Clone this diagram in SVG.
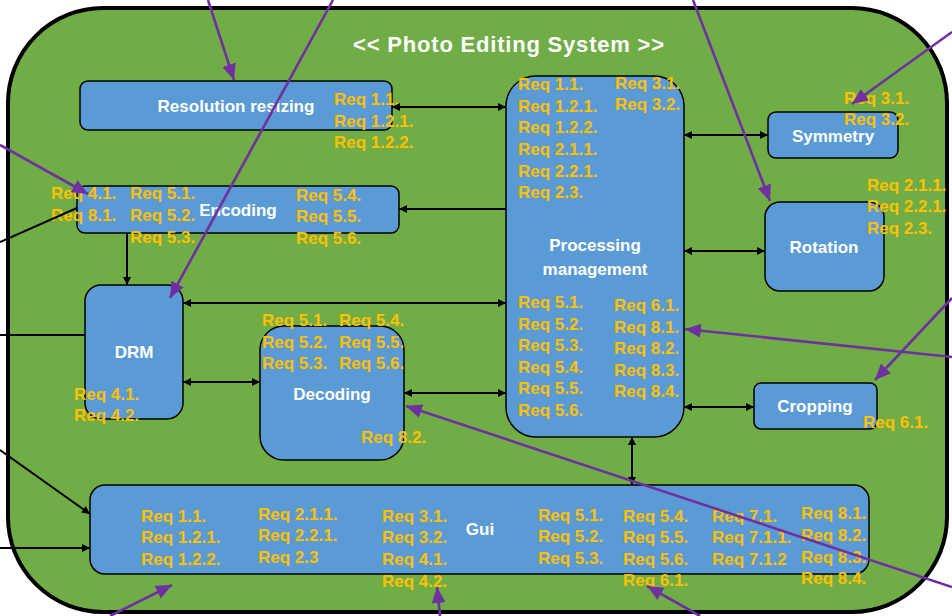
<svg xmlns="http://www.w3.org/2000/svg" width="952" height="616" viewBox="0 0 952 616">
  <style>
    .sys { fill: #70AD47; stroke: #000; stroke-width: 4; }
    .box { fill: #5B9BD5; stroke: #000; stroke-width: 1.5; }
    .lbl { font-family: "Liberation Sans", Arial, sans-serif; font-weight: bold; font-size: 17px; fill: #FFFFFF; text-anchor: middle; }
    .req { font-family: "Liberation Sans", Arial, sans-serif; font-weight: bold; font-size: 17px; fill: #FFC000; }
    .title { font-family: "Liberation Sans", Arial, sans-serif; font-weight: bold; font-size: 22px; fill: #FFFFFF; text-anchor: middle; letter-spacing: 0.8px; }
    .flow { stroke: #000; stroke-width: 2; fill: none; }
    .trace { stroke: #7030A0; stroke-width: 2.6; fill: none; }
  </style>
  <defs>
    <marker id="ah" viewBox="0 0 10 10" refX="10" refY="5" markerWidth="9" markerHeight="8" markerUnits="userSpaceOnUse" orient="auto-start-reverse">
      <path d="M0,0 L10,5 L0,10 z" fill="#000"/>
    </marker>
    <marker id="ahp" viewBox="0 0 16 14" refX="16" refY="7" markerWidth="16" markerHeight="14" markerUnits="userSpaceOnUse" orient="auto">
      <path d="M0,0 L16,7 L0,14 z" fill="#7030A0"/>
    </marker>
  </defs>

  <rect x="0" y="0" width="952" height="616" fill="#FFFFFF"/>

  <!-- system boundary -->
  <g id="system">
    <rect class="sys" x="8" y="8" width="939" height="604" rx="95" ry="95"/>
    <text class="title" x="509" y="52">&lt;&lt; Photo Editing System &gt;&gt;</text>
  </g>

  <g id="resolution">
    <rect class="box" x="80" y="81" width="312" height="49" rx="8"/>
    <text class="lbl" x="236" y="112">Resolution resizing</text>
    <text class="req" x="334" y="105">Req 1.1.</text>
    <text class="req" x="334" y="127">Req 1.2.1.</text>
    <text class="req" x="334" y="148">Req 1.2.2.</text>
  </g>

  <g id="processing">
    <rect class="box" x="506" y="76" width="178" height="361" rx="30"/>
    <text class="lbl" x="595" y="251">Processing</text>
    <text class="lbl" x="595" y="275">management</text>
    <text class="req" x="518" y="90">Req 1.1.</text>
    <text class="req" x="518" y="112">Req 1.2.1.</text>
    <text class="req" x="518" y="133">Req 1.2.2.</text>
    <text class="req" x="518" y="155">Req 2.1.1.</text>
    <text class="req" x="518" y="177">Req 2.2.1.</text>
    <text class="req" x="518" y="198">Req 2.3.</text>
    <text class="req" x="615" y="89">Req 3.1.</text>
    <text class="req" x="615" y="110">Req 3.2.</text>
    <text class="req" x="518" y="308">Req 5.1.</text>
    <text class="req" x="518" y="330">Req 5.2.</text>
    <text class="req" x="518" y="351">Req 5.3.</text>
    <text class="req" x="518" y="373">Req 5.4.</text>
    <text class="req" x="518" y="394">Req 5.5.</text>
    <text class="req" x="518" y="416">Req 5.6.</text>
    <text class="req" x="614" y="311">Req 6.1.</text>
    <text class="req" x="614" y="333">Req 8.1.</text>
    <text class="req" x="614" y="354">Req 8.2.</text>
    <text class="req" x="614" y="376">Req 8.3.</text>
    <text class="req" x="614" y="397">Req 8.4.</text>
  </g>

  <g id="symmetry">
    <rect class="box" x="768" y="112" width="130" height="46" rx="8"/>
    <text class="lbl" x="833" y="142">Symmetry</text>
    <text class="req" x="844" y="104">Req 3.1.</text>
    <text class="req" x="844" y="125">Req 3.2.</text>
  </g>

  <g id="rotation">
    <rect class="box" x="765" y="202" width="119" height="89" rx="15"/>
    <text class="lbl" x="824" y="253">Rotation</text>
    <text class="req" x="867" y="191">Req 2.1.1.</text>
    <text class="req" x="867" y="212">Req 2.2.1.</text>
    <text class="req" x="867" y="234">Req 2.3.</text>
  </g>

  <g id="cropping">
    <rect class="box" x="754" y="383" width="123" height="46" rx="7"/>
    <text class="lbl" x="815" y="412">Cropping</text>
    <text class="req" x="863" y="428">Req 6.1.</text>
  </g>

  <g id="encoding">
    <rect class="box" x="77" y="186" width="322" height="47" rx="8"/>
    <text class="lbl" x="238" y="216">Encoding</text>
    <text class="req" x="51" y="199">Req 4.1.</text>
    <text class="req" x="51" y="221">Req 8.1.</text>
    <text class="req" x="130" y="199">Req 5.1.</text>
    <text class="req" x="130" y="221">Req 5.2.</text>
    <text class="req" x="130" y="243">Req 5.3.</text>
    <text class="req" x="296" y="201">Req 5.4.</text>
    <text class="req" x="296" y="222">Req 5.5.</text>
    <text class="req" x="296" y="244">Req 5.6.</text>
  </g>

  <g id="drm">
    <rect class="box" x="85" y="285" width="98" height="134" rx="16"/>
    <text class="lbl" x="134" y="358">DRM</text>
    <text class="req" x="74" y="400">Req 4.1.</text>
    <text class="req" x="74" y="421">Req 4.2.</text>
  </g>

  <g id="decoding">
    <rect class="box" x="260" y="326" width="144" height="134" rx="24"/>
    <text class="lbl" x="332" y="400">Decoding</text>
    <text class="req" x="262" y="326">Req 5.1.</text>
    <text class="req" x="262" y="348">Req 5.2.</text>
    <text class="req" x="262" y="369">Req 5.3.</text>
    <text class="req" x="339" y="326">Req 5.4.</text>
    <text class="req" x="339" y="348">Req 5.5.</text>
    <text class="req" x="339" y="369">Req 5.6.</text>
    <text class="req" x="361" y="443">Req 8.2.</text>
  </g>

  <g id="gui">
    <rect class="box" x="90" y="485" width="779" height="89" rx="15"/>
    <text class="lbl" x="480" y="535">Gui</text>
    <text class="req" x="141" y="522">Req 1.1.</text>
    <text class="req" x="141" y="543">Req 1.2.1.</text>
    <text class="req" x="141" y="565">Req 1.2.2.</text>
    <text class="req" x="258" y="520">Req 2.1.1.</text>
    <text class="req" x="258" y="541">Req 2.2.1.</text>
    <text class="req" x="258" y="563">Req 2.3</text>
    <text class="req" x="382" y="522">Req 3.1.</text>
    <text class="req" x="382" y="543">Req 3.2.</text>
    <text class="req" x="382" y="565">Req 4.1.</text>
    <text class="req" x="382" y="587">Req 4.2.</text>
    <text class="req" x="538" y="521">Req 5.1.</text>
    <text class="req" x="538" y="542">Req 5.2.</text>
    <text class="req" x="538" y="564">Req 5.3.</text>
    <text class="req" x="623" y="522">Req 5.4.</text>
    <text class="req" x="623" y="543">Req 5.5.</text>
    <text class="req" x="623" y="565">Req 5.6.</text>
    <text class="req" x="623" y="586">Req 6.1.</text>
    <text class="req" x="712" y="522">Req 7.1.</text>
    <text class="req" x="712" y="543">Req 7.1.1.</text>
    <text class="req" x="712" y="565">Req 7.1.2</text>
    <text class="req" x="801" y="519">Req 8.1.</text>
    <text class="req" x="801" y="541">Req 8.2.</text>
    <text class="req" x="801" y="563">Req 8.3.</text>
    <text class="req" x="801" y="584">Req 8.4.</text>
  </g>

  <g id="connectors">
    <!-- internal flows -->
    <line class="flow" x1="392" y1="107" x2="506" y2="107" marker-start="url(#ah)" marker-end="url(#ah)"/>
    <line class="flow" x1="684" y1="135" x2="768" y2="135" marker-start="url(#ah)" marker-end="url(#ah)"/>
    <line class="flow" x1="506" y1="209" x2="399" y2="209" marker-end="url(#ah)"/>
    <line class="flow" x1="684" y1="251" x2="765" y2="251" marker-start="url(#ah)" marker-end="url(#ah)"/>
    <line class="flow" x1="183" y1="303" x2="506" y2="303" marker-start="url(#ah)" marker-end="url(#ah)"/>
    <line class="flow" x1="183" y1="382" x2="260" y2="382" marker-start="url(#ah)" marker-end="url(#ah)"/>
    <line class="flow" x1="404" y1="393" x2="506" y2="393" marker-start="url(#ah)" marker-end="url(#ah)"/>
    <line class="flow" x1="684" y1="407" x2="754" y2="407" marker-start="url(#ah)" marker-end="url(#ah)"/>
    <line class="flow" x1="632" y1="437" x2="632" y2="485" marker-start="url(#ah)" marker-end="url(#ah)"/>
    <line class="flow" x1="127" y1="233" x2="127" y2="285" marker-end="url(#ah)"/>
    <!-- external inputs -->
    <line class="flow" x1="0" y1="242" x2="77" y2="208"/>
    <line class="flow" x1="0" y1="335" x2="85" y2="335"/>
    <line class="flow" x1="0" y1="450" x2="90" y2="514" marker-end="url(#ah)"/>
    <line class="flow" x1="0" y1="548" x2="90" y2="548" marker-end="url(#ah)"/>
    <!-- requirement traces -->
    <line class="trace" x1="208" y1="0" x2="234" y2="80" marker-end="url(#ahp)"/>
    <line class="trace" x1="333" y1="0" x2="170" y2="298" marker-end="url(#ahp)"/>
    <line class="trace" x1="693" y1="0" x2="770" y2="201" marker-end="url(#ahp)"/>
    <line class="trace" x1="952" y1="32" x2="852" y2="104" marker-end="url(#ahp)"/>
    <line class="trace" x1="0" y1="145" x2="88" y2="194" marker-end="url(#ahp)"/>
    <line class="trace" x1="952" y1="298" x2="875" y2="380" marker-end="url(#ahp)"/>
    <line class="trace" x1="952" y1="357" x2="685" y2="329" marker-end="url(#ahp)"/>
    <line class="trace" x1="952" y1="587" x2="406" y2="406" marker-end="url(#ahp)"/>
    <line class="trace" x1="110" y1="616" x2="172" y2="585" marker-end="url(#ahp)"/>
    <line class="trace" x1="440" y1="616" x2="437" y2="587" marker-end="url(#ahp)"/>
    <line class="trace" x1="700" y1="616" x2="647" y2="586" marker-end="url(#ahp)"/>
  </g>
</svg>
